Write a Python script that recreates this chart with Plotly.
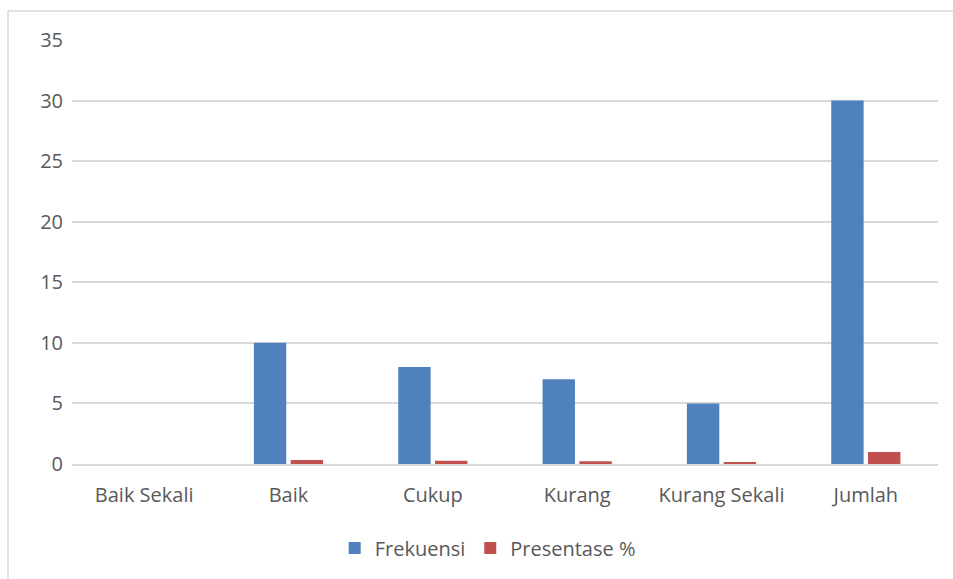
import plotly.graph_objects as go

categories = ["Baik Sekali", "Baik", "Cukup", "Kurang", "Kurang Sekali", "Jumlah"]
frekuensi = [0, 10, 8, 7, 5, 30]
presentase = [0, 0.333, 0.267, 0.233, 0.167, 1.0]
y_ticks = [0, 5, 10, 15, 20, 25, 30, 35]

W, H = 953, 579
L, R, T, B = 72, 15, 40, 115

fig = go.Figure()
fig.add_trace(go.Bar(x=categories, y=frekuensi, name="Frekuensi",
                     marker=dict(color="#4F81BD", line=dict(width=0))))
fig.add_trace(go.Bar(x=categories, y=presentase, name="Presentase %",
                     marker=dict(color="#C0504D", line=dict(width=0))))

pw = W - L - R
ph = H - T - B
x0 = (8 - L) / pw
y1 = 1 + (T - 11) / ph
fig.add_shape(type="rect", xref="paper", yref="paper", x0=x0, x1=1.2, y0=-0.5, y1=y1,
              line=dict(color="#D9D9D9", width=1.5), fillcolor="rgba(0,0,0,0)", layer="below")

fig.update_layout(
    width=W, height=H,
    margin=dict(l=L, r=R, t=T, b=B),
    paper_bgcolor="white", plot_bgcolor="white",
    barmode="group", bargap=0.49, bargroupgap=0.12,
    font=dict(family="Open Sans, Liberation Sans, sans-serif", size=20, color="#595959"),
    showlegend=True,
    legend=dict(orientation="h", x=0.48, xanchor="center", y=-0.198, yanchor="middle",
                font=dict(size=20, color="#595959"), itemwidth=30, traceorder="normal"),
    xaxis=dict(showgrid=False, showline=True, linecolor="#D9D9D9", linewidth=1.5,
               ticks="", tickfont=dict(size=20), ticklabelstandoff=12),
    yaxis=dict(range=[0, 35], tickvals=y_ticks, showgrid=True, gridcolor="#D9D9D9",
               gridwidth=1.5, zeroline=False, showline=False, ticks="",
               tickfont=dict(size=20), ticklabelstandoff=8),
)

fig.write_html("out.html")
